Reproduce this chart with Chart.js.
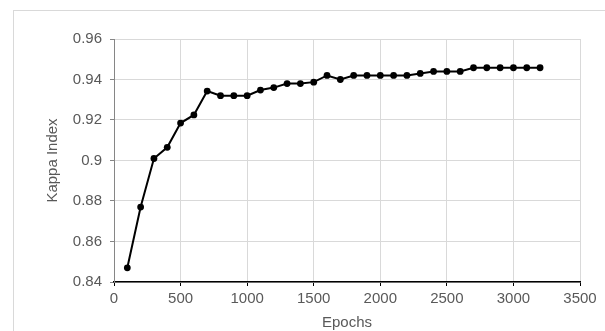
<!DOCTYPE html>
<html>
<head>
<meta charset="utf-8">
<script src="https://cdn.jsdelivr.net/npm/chart.js@4.4.1/dist/chart.umd.min.js"></script>
<style>
    body { margin: 0; background: #fff; overflow: hidden; }
    #frame { position: absolute; left: 13px; top: 10px; width: 620px; height: 400px; border: 1px solid #d9d9d9; }
    #kappaChart { position: absolute; left: 0; top: 0; }
</style>
</head>
<body>
<div id="frame"></div>
<canvas id="kappaChart" width="605" height="331"></canvas>
<script>
// Training epochs and the Kappa index
const epochs = [100, 200, 300, 400, 500, 600, 700, 800, 900, 1000,
    1100, 1200, 1300, 1400, 1500, 1600, 1700, 1800, 1900, 2000,
    2100, 2200, 2300, 2400, 2500, 2600, 2700, 2800, 2900, 3000,
    3100, 3200];
const kappa = [0.847, 0.877, 0.901, 0.9065, 0.9185, 0.9225, 0.9343, 0.932, 0.932, 0.932,
    0.9348, 0.936, 0.938, 0.938, 0.9387, 0.942, 0.940, 0.942, 0.942, 0.942,
    0.942, 0.942, 0.943, 0.944, 0.944, 0.944, 0.9458, 0.9458, 0.9458, 0.9458,
    0.9458, 0.9458];

// Axis ticks
const xTicks = [0, 500, 1000, 1500, 2000, 2500, 3000, 3500];
const yTicks = [0.84, 0.86, 0.88, 0.9, 0.92, 0.94, 0.96];

const textColor = '#595959';
const font = { family: 'Liberation Sans, Arial, sans-serif', size: 15 };

new Chart(document.getElementById('kappaChart'), {
    type: 'line',
    data: {
        datasets: [{
            data: epochs.map((e, i) => ({ x: e, y: kappa[i] })),
            borderColor: '#000',
            backgroundColor: '#000',
            borderWidth: 2,
            pointRadius: 3.4,
            pointBorderWidth: 0,
            tension: 0
        }]
    },
    options: {
        responsive: false,
        animation: false,
        layout: { padding: { left: 0, top: 39, right: 25, bottom: 0 } },
        plugins: { legend: { display: false }, tooltip: { enabled: false } },
        scales: {
            x: {
                type: 'linear',
                min: xTicks[0],
                max: xTicks[xTicks.length - 1],
                afterBuildTicks: s => { s.ticks = xTicks.map(v => ({ value: v })); },
                afterFit: s => { s.height = 49; },
                grid: { color: '#d9d9d9', tickColor: '#000', tickLength: 4 },
                border: { color: '#000', width: 1.5 },
                ticks: { color: textColor, font: font, padding: 4, maxRotation: 0, callback: v => String(v) },
                title: {
                    display: true, text: 'Epochs', color: textColor,
                    font: { ...font, lineHeight: 1 }, padding: { top: 0, bottom: 0.5 }
                }
            },
            y: {
                min: yTicks[0],
                max: yTicks[yTicks.length - 1],
                afterBuildTicks: s => { s.ticks = yTicks.map(v => ({ value: v })); },
                afterFit: s => { s.width = 114; },
                grid: { color: '#d9d9d9', tickColor: '#868686', tickLength: 4 },
                border: { color: '#868686', width: 1 },
                ticks: { color: textColor, font: font, padding: 8, callback: v => String(+v.toFixed(2)) },
                title: {
                    display: true, text: 'Kappa Index', color: textColor,
                    font: font, padding: { top: 43.5, bottom: 0 }
                }
            }
        }
    }
});
</script>
</body>
</html>
